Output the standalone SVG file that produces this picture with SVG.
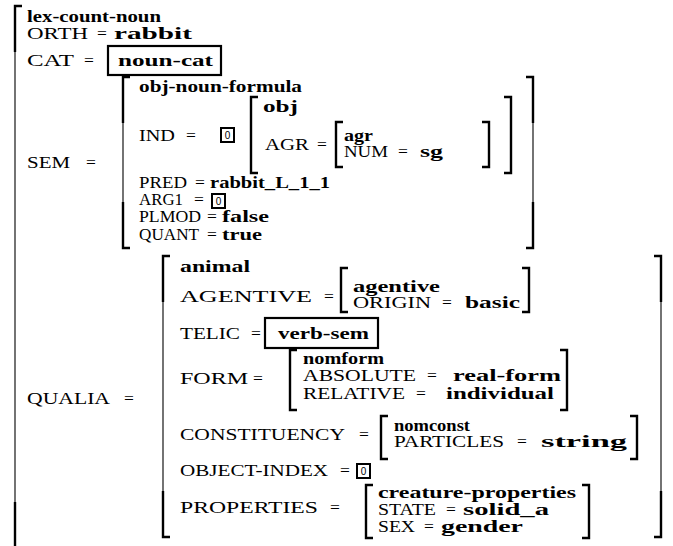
<svg xmlns="http://www.w3.org/2000/svg" width="673" height="546" viewBox="0 0 673 546">
<style>
  text { font-family: "Liberation Serif", "DejaVu Serif", serif; font-size: 17.5px; fill: #000; }
  .b { font-weight: bold; }
  .tag { font-family: "Liberation Sans", "DejaVu Sans", sans-serif; font-size: 10px; text-anchor: middle; }
  .tk { fill: none; stroke: #000; stroke-width: 2.4; }
  .tn { fill: none; stroke: #000; stroke-width: 1.1; }
  .box { fill: #fff; stroke: #000; stroke-width: 2.2; }
  .tbox { fill: #fff; stroke: #000; stroke-width: 2; }
</style>
<rect width="673" height="546" fill="#fff"/>

<!-- outer lexical sign -->
<g id="lex-count-noun">
  <path class="tk" d="M22 6 H15 V52"/>
  <path class="tn" d="M15 52 V502"/>
  <path class="tk" d="M15 502 V546"/>
  <text class="b" x="27" y="22" textLength="134" lengthAdjust="spacingAndGlyphs">lex-count-noun</text>
  <text x="27" y="39" textLength="61" lengthAdjust="spacingAndGlyphs">ORTH</text>
  <text x="97" y="39">=</text>
  <text class="b" x="114" y="39" textLength="78" lengthAdjust="spacingAndGlyphs">rabbit</text>
  <text x="27" y="66" textLength="47" lengthAdjust="spacingAndGlyphs">CAT</text>
  <text x="84" y="66">=</text>
  <text x="27" y="168" textLength="43" lengthAdjust="spacingAndGlyphs">SEM</text>
  <text x="86" y="168">=</text>
  <text x="27" y="404" textLength="83" lengthAdjust="spacingAndGlyphs">QUALIA</text>
  <text x="124" y="404">=</text>
</g>

<!-- CAT value -->
<g id="noun-cat">
  <rect class="box" x="108" y="46" width="113" height="29"/>
  <text class="b" x="118" y="66" textLength="95" lengthAdjust="spacingAndGlyphs">noun-cat</text>
</g>

<!-- SEM value -->
<g id="obj-noun-formula">
  <path class="tk" d="M130 77 H123 V123"/>
  <path class="tn" d="M123 123 V202"/>
  <path class="tk" d="M123 202 V248 H130"/>
  <path class="tk" d="M526 77 H533 V123"/>
  <path class="tn" d="M533 123 V202"/>
  <path class="tk" d="M533 202 V248 H526"/>
  <text class="b" x="139" y="92" textLength="163" lengthAdjust="spacingAndGlyphs">obj-noun-formula</text>
  <text x="139" y="141" textLength="36" lengthAdjust="spacingAndGlyphs">IND</text>
  <text x="186" y="141">=</text>
  <rect class="tbox" x="221" y="128" width="13" height="14"/>
  <text class="tag" x="227.5" y="139">0</text>
  <text x="139" y="188" textLength="48" lengthAdjust="spacingAndGlyphs">PRED</text>
  <text x="195" y="188">=</text>
  <text class="b" x="210" y="188" textLength="120" lengthAdjust="spacingAndGlyphs">rabbit_L_1_1</text>
  <text x="139" y="205" textLength="44" lengthAdjust="spacingAndGlyphs">ARG1</text>
  <text x="194" y="205">=</text>
  <rect class="tbox" x="212" y="194" width="13" height="14"/>
  <text class="tag" x="218.5" y="205">0</text>
  <text x="139" y="222" textLength="62" lengthAdjust="spacingAndGlyphs">PLMOD</text>
  <text x="207" y="222">=</text>
  <text class="b" x="222" y="222" textLength="47" lengthAdjust="spacingAndGlyphs">false</text>
  <text x="139" y="240" textLength="60" lengthAdjust="spacingAndGlyphs">QUANT</text>
  <text x="207" y="240">=</text>
  <text class="b" x="222" y="240" textLength="40" lengthAdjust="spacingAndGlyphs">true</text>
</g>

<!-- IND value -->
<g id="obj">
  <path class="tk" d="M258 97 H251 V173 H258"/>
  <path class="tk" d="M504 97 H511 V173 H504"/>
  <text class="b" x="263" y="112" textLength="35" lengthAdjust="spacingAndGlyphs">obj</text>
  <text x="265" y="150" textLength="44" lengthAdjust="spacingAndGlyphs">AGR</text>
  <text x="317" y="150">=</text>
</g>

<!-- AGR value -->
<g id="agr">
  <path class="tk" d="M343 122 H336 V167 H343"/>
  <path class="tk" d="M482 122 H489 V167 H482"/>
  <text class="b" x="344" y="141" textLength="29" lengthAdjust="spacingAndGlyphs">agr</text>
  <text x="344" y="157" textLength="44" lengthAdjust="spacingAndGlyphs">NUM</text>
  <text x="398" y="157">=</text>
  <text class="b" x="420" y="157" textLength="23" lengthAdjust="spacingAndGlyphs">sg</text>
</g>

<!-- QUALIA value -->
<g id="animal">
  <path class="tk" d="M170 256 H163 V302"/>
  <path class="tn" d="M163 302 V491"/>
  <path class="tk" d="M163 491 V537 H170"/>
  <path class="tk" d="M654 256 H661 V302"/>
  <path class="tn" d="M661 302 V491"/>
  <path class="tk" d="M661 491 V537 H654"/>
  <text class="b" x="180" y="272" textLength="70" lengthAdjust="spacingAndGlyphs">animal</text>
  <text x="180" y="302" textLength="132" lengthAdjust="spacingAndGlyphs">AGENTIVE</text>
  <text x="324" y="302">=</text>
  <text x="180" y="339" textLength="60" lengthAdjust="spacingAndGlyphs">TELIC</text>
  <text x="251" y="339">=</text>
  <text x="180" y="384" textLength="68" lengthAdjust="spacingAndGlyphs">FORM</text>
  <text x="253" y="384">=</text>
  <text x="180" y="440" textLength="165" lengthAdjust="spacingAndGlyphs">CONSTITUENCY</text>
  <text x="359" y="440">=</text>
  <text x="180" y="476" textLength="148" lengthAdjust="spacingAndGlyphs">OBJECT-INDEX</text>
  <text x="340" y="476">=</text>
  <rect class="tbox" x="357" y="464" width="13" height="14"/>
  <text class="tag" x="363.5" y="475">0</text>
  <text x="180" y="513" textLength="138" lengthAdjust="spacingAndGlyphs">PROPERTIES</text>
  <text x="330" y="513">=</text>
</g>

<!-- AGENTIVE value -->
<g id="agentive">
  <path class="tk" d="M348 268 H341 V312 H348"/>
  <path class="tk" d="M522 268 H529 V312 H522"/>
  <text class="b" x="353" y="292" textLength="87" lengthAdjust="spacingAndGlyphs">agentive</text>
  <text x="353" y="308" textLength="78" lengthAdjust="spacingAndGlyphs">ORIGIN</text>
  <text x="442" y="308">=</text>
  <text class="b" x="465" y="308" textLength="55" lengthAdjust="spacingAndGlyphs">basic</text>
</g>

<!-- TELIC value -->
<g id="verb-sem">
  <rect class="box" x="265" y="318" width="113" height="30"/>
  <text class="b" x="278" y="339" textLength="91" lengthAdjust="spacingAndGlyphs">verb-sem</text>
</g>

<!-- FORM value -->
<g id="nomform">
  <path class="tk" d="M297 350 H290 V410 H297"/>
  <path class="tk" d="M560 350 H567 V410 H560"/>
  <text class="b" x="303" y="364" textLength="81" lengthAdjust="spacingAndGlyphs">nomform</text>
  <text x="303" y="381" textLength="113" lengthAdjust="spacingAndGlyphs">ABSOLUTE</text>
  <text x="427" y="381">=</text>
  <text class="b" x="453" y="381" textLength="108" lengthAdjust="spacingAndGlyphs">real-form</text>
  <text x="303" y="399" textLength="102" lengthAdjust="spacingAndGlyphs">RELATIVE</text>
  <text x="416" y="399">=</text>
  <text class="b" x="446" y="399" textLength="108" lengthAdjust="spacingAndGlyphs">individual</text>
</g>

<!-- CONSTITUENCY value -->
<g id="nomconst">
  <path class="tk" d="M388 416 H381 V459 H388"/>
  <path class="tk" d="M630 416 H637 V459 H630"/>
  <text class="b" x="394" y="431" textLength="76" lengthAdjust="spacingAndGlyphs">nomconst</text>
  <text x="394" y="447" textLength="110" lengthAdjust="spacingAndGlyphs">PARTICLES</text>
  <text x="517" y="447">=</text>
  <text class="b" x="541" y="447" textLength="86" lengthAdjust="spacingAndGlyphs">string</text>
</g>

<!-- PROPERTIES value -->
<g id="creature-properties">
  <path class="tk" d="M373 485 H366 V538 H373"/>
  <path class="tk" d="M582 485 H589 V538 H582"/>
  <text class="b" x="378" y="498" textLength="198" lengthAdjust="spacingAndGlyphs">creature-properties</text>
  <text x="378" y="515" textLength="58" lengthAdjust="spacingAndGlyphs">STATE</text>
  <text x="446" y="515">=</text>
  <text class="b" x="463" y="515" textLength="86" lengthAdjust="spacingAndGlyphs">solid_a</text>
  <text x="378" y="532" textLength="37" lengthAdjust="spacingAndGlyphs">SEX</text>
  <text x="424" y="532">=</text>
  <text class="b" x="441" y="532" textLength="82" lengthAdjust="spacingAndGlyphs">gender</text>
</g>
</svg>
